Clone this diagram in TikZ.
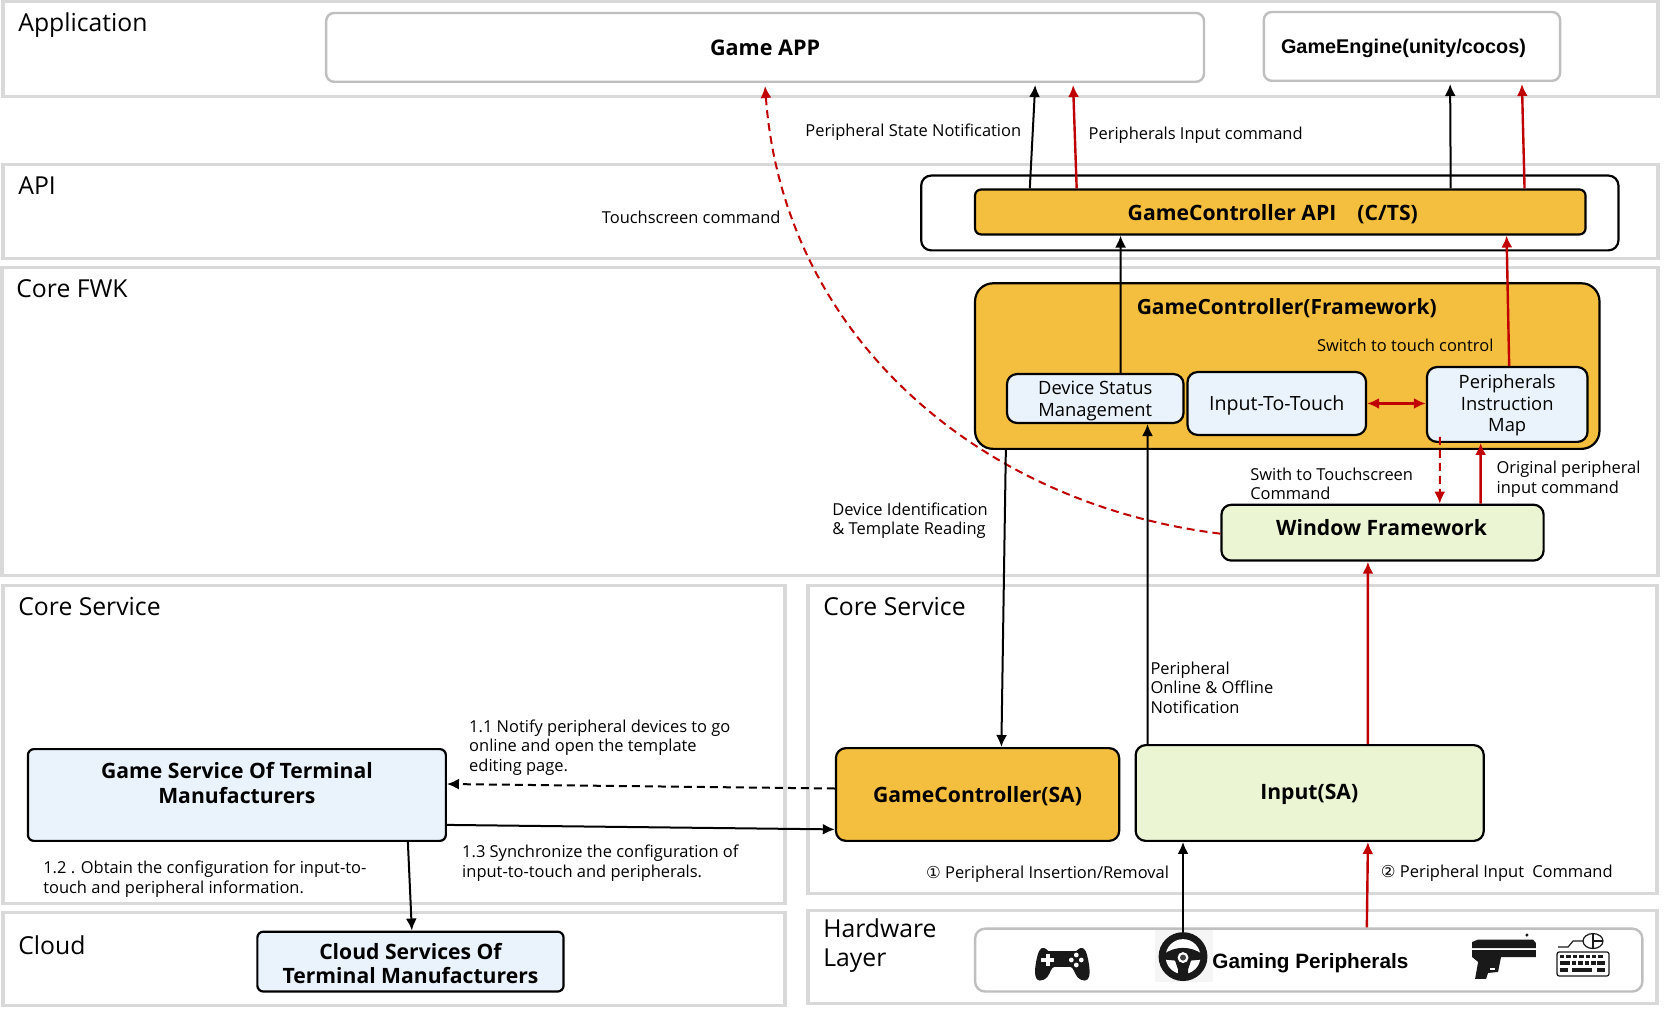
\documentclass[tikz,border=0pt]{standalone}
\usepackage{fontspec}
\setmainfont{Open Sans}
\newfontfamily\arialfont{Liberation Sans}
\newfontfamily\symfont{DejaVu Sans}
\usetikzlibrary{arrows.meta}
\definecolor{layergray}{HTML}{D9D9D9}
\definecolor{boxgray}{HTML}{BFBFBF}
\definecolor{gcorange}{HTML}{F4BE3F}
\definecolor{svcblue}{HTML}{EAF3FC}
\definecolor{wingreen}{HTML}{EBF5D3}
\definecolor{cmdred}{HTML}{C00000}
\begin{document}
\begin{tikzpicture}[x=.5pt,y=-.5pt,scale=.9975,transform shape,>={Latex[length=6pt,width=5.5pt]}]
  \tikzstyle{boxsize}=[minimum width=#1*.5pt]
  \tikzstyle{boxhigh}=[minimum height=#1*.5pt]
  \tikzstyle{layer}=[rectangle,draw=layergray,line width=1.7pt,fill=white,inner sep=0pt]
  \tikzstyle{graybox}=[rectangle,rounded corners=4pt,draw=boxgray,line width=1.2pt,fill=white,inner sep=0pt,font=\fontsize{10.8}{13}\selectfont\bfseries]
  \tikzstyle{blkbox}=[rectangle,rounded corners=5pt,draw=black,line width=1.1pt,inner sep=0pt]
  \tikzstyle{subbox}=[blkbox,fill=svcblue]
  \tikzstyle{boxtext}=[inner sep=0pt,align=center,font=\fontsize{10.6}{12.3}\selectfont\bfseries]
  \tikzstyle{subtext}=[inner sep=0pt,align=center,font=\fontsize{9.2}{10.8}\selectfont]
  \tikzstyle{lbl}=[anchor=west,align=left,inner sep=0pt,font=\fontsize{8.25}{9.9}\selectfont]
  \tikzstyle{head}=[anchor=west,align=left,inner sep=0pt,font=\fontsize{12.4}{14.5}\selectfont]
  \tikzstyle{blk}=[->,line width=1pt]
  \tikzstyle{red}=[->,line width=1.2pt,draw=cmdred]
  \tikzstyle{reddash}=[red,line width=1pt,dash pattern=on 4pt off 2.5pt]

  \useasboundingbox (0,0) rectangle (1668.2,1011.5);

  % layers
  \node [layer,boxsize=1659,boxhigh=96] (lapp) at (832.5,49) {};
  \node [layer,boxsize=1659,boxhigh=94] (lapi) at (832.5,212) {};
  \node [layer,boxsize=1660,boxhigh=309] (lfwk) at (832,422.5) {};
  \node [layer,boxsize=784,boxhigh=319] (lsvcl) at (395,746.5) {};
  \node [layer,boxsize=851,boxhigh=309] (lsvcr) at (1235.5,741.5) {};
  \node [layer,boxsize=784,boxhigh=93] (lcloud) at (395,961.5) {};
  \node [layer,boxsize=851,boxhigh=93] (lhw) at (1235.5,959.5) {};
  \node [head] (tapp) at (18,25) {Application};
  \node [head] (tapi) at (18,186.5) {API};
  \node [head] (tfwk) at (16,289.5) {Core FWK};
  \node [head] (tsvcl) at (18,608.5) {Core Service};
  \node [head] (tsvcr) at (825,608.5) {Core Service};
  \node [head] (tcloud) at (18,947.5) {Cloud};
  \node [head] (thw) at (825,947.5) {Hardware\\Layer};

  % boxes
  \node [graybox,boxsize=880,boxhigh=69] (app) at (767,47.5) {Game APP};
  \node [graybox,boxsize=297,boxhigh=69] (engine) at (1415.5,46.5) {};
  \node [inner sep=0pt,font=\fontsize{9.95}{12}\arialfont\bfseries] (enginetext) at (1407,48.5) {GameEngine(unity/cocos)};
  \node [blkbox,boxsize=699,boxhigh=75,fill=white] (apibox) at (1273,213.5) {};
  \node [blkbox,boxsize=612,boxhigh=45,fill=gcorange,rounded corners=3pt] (gcapi) at (1283.5,212.5) {};
  \node [boxtext] (gcapitext) at (1276,214.5) {GameController API\hspace{1em}(C/TS)};
  \node [blkbox,boxsize=626,boxhigh=166,fill=gcorange,rounded corners=9pt] (gcfwk) at (1290.5,367) {};
  \node [boxtext,font=\fontsize{10.5}{13}\selectfont\bfseries] (fwktitle) at (1290,308.5) {GameController(Framework)};
  \node [subbox,boxsize=177,boxhigh=49] (devstat) at (1098,399.5) {};
  \node [subtext] (devtext) at (1098,402) {Device Status\\Management};
  \node [subbox,boxsize=179,boxhigh=63] (intouch) at (1280,404.5) {};
  \node [subtext,font=\fontsize{9.8}{11}\selectfont] (touchtext) at (1280,406.5) {Input-To-Touch};
  \node [subbox,boxsize=161,boxhigh=75] (pmap) at (1511,405.5) {};
  \node [subtext] (maptext) at (1511,406.5) {Peripherals\\Instruction\\Map};
  \node [blkbox,boxsize=323,boxhigh=56,fill=wingreen] (winfw) at (1386,534) {};
  \node [boxtext] (wintext) at (1385,529) {Window Framework};
  \node [blkbox,boxsize=284,boxhigh=93,fill=gcorange] (gcsa) at (980,796.5) {};
  \node [boxtext] (gcsatext) at (980,798.5) {GameController(SA)};
  \node [blkbox,boxsize=349,boxhigh=96,fill=wingreen] (inputsa) at (1313,795) {};
  \node [boxtext] (inputtext) at (1312.5,796.5) {Input(SA)};
  \node [blkbox,boxsize=419,boxhigh=92,fill=svcblue,rounded corners=3pt] (gamesvc) at (237.5,797) {};
  \node [boxtext] (svctext) at (237.5,785) {Game Service Of Terminal\\Manufacturers};
  \node [blkbox,boxsize=307,boxhigh=60,fill=svcblue,rounded corners=3pt] (cloudsvc) at (411.5,964) {};
  \node [boxtext] (cloudtext) at (411.5,966) {Cloud Services Of\\Terminal Manufacturers};
  \node [graybox,boxsize=669,boxhigh=63,rounded corners=5pt] (gaming) at (1312,962.5) {};
  \node [anchor=west,inner sep=0pt,font=\fontsize{10.4}{12}\arialfont\bfseries] (gamingtext) at (1215,965.5) {Gaming Peripherals};

  % steering wheel
  \node [rectangle,fill=black!4,inner sep=0pt,boxsize=58,boxhigh=52] (wheelbg) at (1187,958.5) {};
  \node [circle,fill=black!90,inner sep=0pt,minimum size=24.5pt] (wheel) at (1186,959) {};
  \begin{scope}[shift={(1186,959)}]
    \fill [white] (0,0) circle (17.5);
    \fill [black!90] (-20,-2) .. controls (-8,-11) and (8,-11) .. (20,-2) -- (18,3) -- (8,4) -- (5,13) -- (5,20) -- (-5,20) -- (-5,13) -- (-8,4) -- (-18,3) -- cycle;
    \fill [white] (0,1) circle (5.5);
    \fill [black!75] (0,1) circle (3);
  \end{scope}
  % gamepad
  \begin{scope}[shift={(1065,966.4)}]
    \fill [black!90] (0,-13) -- (-14,-13) .. controls (-20,-19) and (-23,-16) .. (-25,-8) .. controls (-27,0) and (-28,8) .. (-27,12) .. controls (-26,18) and (-20,18) .. (-15,13) .. controls (-12,9) and (-11,3) .. (-8,3) -- (8,3) .. controls (11,3) and (12,9) .. (15,13) .. controls (20,18) and (26,18) .. (27,12) .. controls (28,8) and (27,0) .. (25,-8) .. controls (23,-16) and (20,-19) .. (14,-13) -- cycle;
    \fill [white] (-21,-6) rectangle (-8,-2);
    \fill [white] (-16.5,-10.5) rectangle (-12.5,2.5);
    \foreach \dx/\dy in {14/-9,14/1,9/-4,19/-4} {
      \fill [white] (\dx,\dy) circle (2.4);
    }
  \end{scope}
  % pistol
  \begin{scope}[shift={(3.8,2.4)}]
    \fill [black!90] (1478,939.5) -- (1533,939.5) -- (1536,943) -- (1536,948) -- (1472,948) -- (1472,942) -- cycle;
    \fill [black!90] (1472,950) -- (1536,950) -- (1536,957) -- (1501,957) -- (1498,972) -- (1488,973) -- (1486,979) -- (1475,979) -- (1478,962) -- (1472,957) -- cycle;
    \fill [white] (1490,968) rectangle (1495,970);
    \fill [black!90] (1527,935) circle (1.7);
  \end{scope}
  % keyboard and mouse
  \begin{scope}[shift={(4,2.4)}]
    \draw [black!90,line width=.6pt,rounded corners=1pt] (1557,952) rectangle (1609,976);
    \foreach \kx in {1560,1566.4,...,1600} {
      \fill [black!90] (\kx,955) rectangle +(4.3,3.5);
    }
    \fill [black!90] (1560,961.5) rectangle (1570,965);
    \foreach \kx in {1572,1578.4,...,1592} {
      \fill [black!90] (\kx,961.5) rectangle +(4.3,3.5);
    }
    \fill [black!90] (1597,961.5) rectangle (1605,965);
    \fill [black!90] (1560,968.5) rectangle (1568,972);
    \fill [black!90] (1572,968.5) rectangle (1592,972);
    \fill [black!90] (1597,968.5) rectangle (1605,972);
    \draw [black!90,line width=.6pt] (1558,947) -- (1568,947) -- (1573,941) -- (1583,941);
    \draw [black!90,line width=.6pt] (1593,941) ellipse (10 and 7.5);
    \draw [black!90,line width=.6pt] (1593,933.5) -- (1593,948.5) (1593,941) -- (1603,941);
  \end{scope}

  % labels
  \node [lbl] (lstate) at (807,133) {Peripheral State Notification};
  \node [lbl] (linput) at (1091,136) {Peripherals Input command};
  \node [lbl] (ltouch) at (603,218) {Touchscreen command};
  \node [lbl] (lswitch) at (1320,346.5) {Switch to touch control};
  \node [lbl] (lident) at (834,522) {Device Identification\\\& Template Reading};
  \node [lbl] (lswith) at (1253,485) {Swith to Touchscreen\\Command};
  \node [lbl] (lorig) at (1500,480.5) {Original peripheral\\input command};
  \node [lbl] (lonline) at (1153,689.5) {Peripheral\\Online \& Offline\\Notification};
  \node [lbl] (lnotify) at (470,749.5) {1.1 Notify peripheral devices to go\\online and open the template\\editing page.};
  \node [lbl] (lobtain) at (43,881.5) {1.2 . Obtain the configuration for input-to-\\touch and peripheral information.};
  \node [lbl] (lsync) at (463,865) {1.3 Synchronize the configuration of\\input-to-touch and peripherals.};
  \node [lbl] (lins) at (928,876) {{\symfont ①} Peripheral Insertion/Removal};
  \node [lbl] (lcmd) at (1384,875) {{\symfont ②} Peripheral Input\hspace{.5em}Command};

  % connectors
  \draw [blk] ([xshift=28pt]gcapi.north west) -- ([xshift=356pt,yshift=-1pt]app.south west);
  \draw [red] ([xshift=51.5pt]gcapi.north west) -- ([xshift=375pt,yshift=-1pt]app.south west);
  \draw [blk] ([xshift=239pt]gcapi.north west) -- ([xshift=94pt,yshift=-1pt]engine.south west);
  \draw [red] ([xshift=276pt]gcapi.north west) -- ([xshift=130pt,yshift=-1pt]engine.south west);
  \draw [blk] ([xshift=57.5pt]devstat.north west) -- ([xshift=73.5pt]gcapi.south west);
  \draw [red] ([xshift=1pt]pmap.north) -- ([xshift=267pt]gcapi.south west);
  \draw [red,<->] (intouch.east) -- (intouch.east -| pmap.west);
  \draw [reddash] ([xshift=7pt,yshift=3pt]pmap.south west) -- ([xshift=110pt]winfw.north west);
  \draw [red] ([xshift=130.5pt]winfw.north west) -- ([xshift=27.5pt]pmap.south west);
  \draw [reddash] ([yshift=-.5pt]winfw.west) .. controls (980,505) and (785,335) .. ([yshift=-1.5pt]app.south);
  \draw [blk] ([xshift=16pt]gcfwk.south west) -- ([xshift=83.5pt]gcsa.north west);
  \draw [blk] ([xshift=6.5pt]inputsa.north west) -- ([xshift=71pt]devstat.south west);
  \draw [red] ([xshift=117pt]inputsa.north west) -- ([xshift=74pt]winfw.south west);
  \draw [blk,dash pattern=on 4pt off 2.5pt] ([yshift=3pt]gcsa.west) -- ([yshift=5.5pt]gamesvc.east);
  \draw [blk] ([yshift=-15pt]gamesvc.east) -- ([yshift=-17.5pt]gcsa.west);
  \draw [blk] ([xshift=191pt]gamesvc.south west) -- ([xshift=78pt]cloudsvc.north west);
  \draw [blk] (wheel.north) -- (inputsa.south -| wheel.north);
  \draw [red] ([xshift=197pt]gaming.north west) -- ([xshift=117pt]inputsa.south west);
\end{tikzpicture}
\end{document}
